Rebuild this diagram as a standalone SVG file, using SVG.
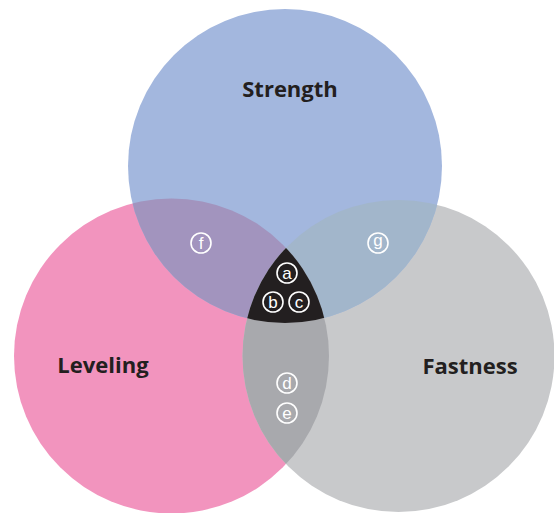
<svg xmlns="http://www.w3.org/2000/svg" width="554" height="513" viewBox="0 0 554 513">
<style>
.lbl{font-family:"Open Sans","Noto Sans","DejaVu Sans",sans-serif;font-weight:700;font-size:22px;fill:#231f20;text-anchor:middle}
.ring{fill:none;stroke:#ffffff;stroke-width:1.6}
.ltr{font-family:"Liberation Sans","Noto Sans","DejaVu Sans",sans-serif;font-size:17px;fill:#ffffff;text-anchor:middle}
</style>
<defs>
<clipPath id="cS"><circle cx="285" cy="166" r="157"/></clipPath>
<clipPath id="cL"><circle cx="171.5" cy="356" r="157.5"/></clipPath>
<clipPath id="cF"><circle cx="398.5" cy="356" r="156"/></clipPath>
</defs>
<rect width="554" height="513" fill="#ffffff"/>
<g id="leveling">
<circle cx="171.5" cy="356" r="157.5" fill="#f294be"/>
</g>
<g id="fastness">
<circle cx="398.5" cy="356" r="156" fill="#c8c9cb"/>
</g>
<g id="strength">
<circle cx="285" cy="166" r="157" fill="#a3b7de"/>
</g>
<g id="overlaps">
<g clip-path="url(#cS)"><circle cx="171.5" cy="356" r="157.5" fill="#a294be"/></g>
<g clip-path="url(#cS)"><circle cx="398.5" cy="356" r="156" fill="#a2b6cb"/></g>
<g clip-path="url(#cL)"><circle cx="398.5" cy="356" r="156" fill="#a8a9ad"/></g>
<g clip-path="url(#cS)"><g clip-path="url(#cL)"><circle cx="398.5" cy="356" r="156" fill="#231f20"/></g></g>
</g>
<g id="labels">
<text class="lbl" x="290" y="97">Strength</text>
<text class="lbl" x="103" y="373">Leveling</text>
<text class="lbl" x="470" y="374">Fastness</text>
</g>
<g id="markers">
<g id="m-a"><circle class="ring" cx="287" cy="273" r="10"/><text class="ltr" x="287" y="279">a</text></g>
<g id="m-b"><circle class="ring" cx="273" cy="302" r="10"/><text class="ltr" x="273" y="308">b</text></g>
<g id="m-c"><circle class="ring" cx="299" cy="302" r="10"/><text class="ltr" x="299" y="308">c</text></g>
<g id="m-d"><circle class="ring" cx="287" cy="383" r="10"/><text class="ltr" x="287" y="389">d</text></g>
<g id="m-e"><circle class="ring" cx="287" cy="413" r="10"/><text class="ltr" x="287" y="419">e</text></g>
<g id="m-f"><circle class="ring" cx="201" cy="243" r="10"/><text class="ltr" x="201" y="249">f</text></g>
<g id="m-g"><circle class="ring" cx="378" cy="243" r="10"/><text class="ltr" x="378" y="246">g</text></g>
</g>
</svg>
